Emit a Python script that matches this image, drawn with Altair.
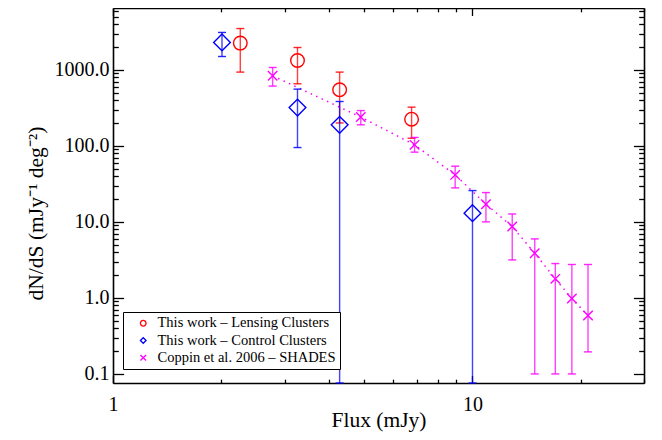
import altair as alt
import pandas as pd

# ---------------- data ----------------
SERIES = ["This work – Lensing Clusters",
          "This work – Control Clusters",
          "Coppin et al. 2006 – SHADES"]
COLORS = ["#ff0000", "#0000ff", "#ff00ff"]
SHAPES = ["circle", "diamond", "M-1,-1L1,1M-1,1L1,-1"]
MARK_SIZES = [185, 280, 90]

lens_x = [2.26, 3.26, 4.27, 6.77]
lens_y = [2245, 1325, 546, 224]
lens_hi = [3490, 1965, 933, 323]
lens_lo = [933, 655, 200, 126]

Y_MIN = 0.076
Y_MAX = 6500
ctrl_x = [2.01, 3.26, 4.27, 10.0]
ctrl_y = [2290, 319, 189, 13.0]
ctrl_hi = [3100, 557, 383, 25.8]
ctrl_lo = [1496, 95, Y_MIN, Y_MIN]

copp_x = [2.78, 4.89, 6.90, 8.95, 10.9, 12.9, 14.9, 17.0, 18.9, 20.96]
copp_y = [834, 239, 103, 41.5, 17.1, 8.67, 3.87, 1.78, 0.98, 0.585]
copp_hi = [1073, 291, 129, 54, 24.3, 12.7, 5.97, 2.83, 2.75, 2.75]
copp_lo = [611, 189, 82.6, 28, 10, 3.16, 0.1, 0.1, 0.1, 0.195]

X_DOMAIN = [1, 30]
Y_DOMAIN = [Y_MIN, Y_MAX]
X_MAJOR = [1, 10]
X_MINOR = [2, 3, 4, 5, 6, 7, 8, 9, 20, 30]
Y_MAJOR = [0.1, 1, 10, 100, 1000]
Y_MINOR = ([0.2, 0.3, 0.4, 0.5, 0.6, 0.7, 0.8, 0.9]
           + [2, 3, 4, 5, 6, 7, 8, 9]
           + [20, 30, 40, 50, 60, 70, 80, 90]
           + [200, 300, 400, 500, 600, 700, 800, 900]
           + [2000, 3000, 4000, 5000, 6000])

# ---------------- build tables ----------------
frames = []
for name, xs, ys, his, los in [
    (SERIES[0], lens_x, lens_y, lens_hi, lens_lo),
    (SERIES[1], ctrl_x, ctrl_y, ctrl_hi, ctrl_lo),
    (SERIES[2], copp_x, copp_y, copp_hi, copp_lo),
]:
    frames.append(pd.DataFrame({"series": name, "flux": xs, "dnds": ys,
                                "hi": his, "lo": los}))
df_all = pd.concat(frames, ignore_index=True)

FONT = "Liberation Serif"
W, H = 531, 375
XT_MAJ, XT_MIN = 7.5, 3.8
YT_MAJ, YT_MIN = 10.6, 5.3
FRAME_W = 1.6

xscale = alt.Scale(type="log", domain=X_DOMAIN, nice=False)
yscale = alt.Scale(type="log", domain=Y_DOMAIN, nice=False)
color_scale = alt.Scale(domain=SERIES, range=COLORS)
shape_scale = alt.Scale(domain=SERIES, range=SHAPES)


def tick_axis(orient, values, size):
    return alt.Axis(orient=orient, values=values, tickSize=size, offset=-size,
                    labels=False, domain=False, grid=False, title="",
                    tickColor="black", tickWidth=1.3)


def frame_axis(orient):
    return alt.Axis(orient=orient, ticks=False, labels=False, domain=True,
                    domainColor="black", domainWidth=FRAME_W, grid=False,
                    title="")


def tick_layer(xa, ya):
    return alt.Chart(df_all).mark_point(opacity=0).encode(
        x=alt.X("flux:Q", scale=xscale, axis=xa),
        y=alt.Y("dnds:Q", scale=yscale, axis=ya),
    )


layers = []

# axes with labels and titles (bottom / left), with frame lines
label_layer = alt.Chart(df_all).mark_point(opacity=0).encode(
    x=alt.X("flux:Q", scale=xscale, axis=alt.Axis(
        orient="bottom", values=X_MAJOR, format="d", ticks=False, tickSize=0,
        domain=True, domainColor="black", domainWidth=FRAME_W, grid=False,
        labelPadding=11, labelFlush=False, labelOverlap=False,
        title="Flux (mJy)", titleX=W / 2, titleY=43, titleAlign="center",
        titleBaseline="alphabetic", titleFontSize=21.5)),
    y=alt.Y("dnds:Q", scale=yscale, axis=alt.Axis(
        orient="left", values=Y_MAJOR, format=".1f", ticks=False, tickSize=0,
        domain=True, domainColor="black", domainWidth=FRAME_W, grid=False,
        labelPadding=4, labelFlush=False, labelOverlap=False,
        title="dN/dS (mJy⁻¹ deg⁻²)", titleAngle=270, titleX=-71, titleY=205,
        titleAlign="center", titleBaseline="alphabetic", titleFontSize=21.5)),
)
layers.append(label_layer)
layers.append(tick_layer(frame_axis("top"), frame_axis("right")))
layers.append(tick_layer(tick_axis("bottom", X_MAJOR, XT_MAJ),
                         tick_axis("left", Y_MAJOR, YT_MAJ)))
layers.append(tick_layer(tick_axis("bottom", X_MINOR, XT_MIN),
                         tick_axis("left", Y_MINOR, YT_MIN)))
layers.append(tick_layer(tick_axis("top", X_MAJOR, XT_MAJ),
                         tick_axis("right", Y_MAJOR, YT_MAJ)))
layers.append(tick_layer(tick_axis("top", X_MINOR, XT_MIN),
                         tick_axis("right", Y_MINOR, YT_MIN)))

X_ENC = alt.X("flux:Q", scale=xscale, axis=None)

# dotted line through SHADES points
df_copp = df_all[df_all.series == SERIES[2]]
layers.append(alt.Chart(df_copp).mark_line(
    color=COLORS[2], strokeWidth=1.5, strokeDash=[1.5, 4.5]).encode(
    x=X_ENC, y=alt.Y("dnds:Q", scale=yscale, axis=None)))

legend = alt.Legend(orient="none", legendX=10, legendY=304, title=None,
                    strokeColor="black", fillColor="white", padding=4,
                    symbolOffset=9, labelOffset=7, rowPadding=2.25,
                    symbolSize=32, symbolStrokeWidth=1.3, labelLimit=400,
                    cornerRadius=0)

for name, col, size in zip(SERIES, COLORS, MARK_SIZES):
    d = df_all[df_all.series == name]
    layers.append(alt.Chart(d).mark_rule(
        color=col, strokeWidth=1.4, opacity=0.75, clip=True).encode(
        x=X_ENC, y=alt.Y("lo:Q", scale=yscale, axis=None), y2="hi:Q"))
    for end in ["hi", "lo"]:
        layers.append(alt.Chart(d).mark_tick(
            orient="horizontal", color=col, size=8, thickness=1.4,
            opacity=0.85).encode(
            x=X_ENC, y=alt.Y(f"{end}:Q", scale=yscale, axis=None)))
    layers.append(alt.Chart(d).mark_point(
        filled=False, size=size, strokeWidth=1.4, opacity=1).encode(
        x=X_ENC, y=alt.Y("dnds:Q", scale=yscale, axis=None),
        color=alt.Color("series:N", scale=color_scale, legend=legend),
        shape=alt.Shape("series:N", scale=shape_scale, legend=legend)))

chart = alt.layer(*layers).resolve_axis(
    x="independent", y="independent"
).properties(
    width=W, height=H,
    autosize=alt.AutoSizeParams(type="none"),
    padding={"left": 105, "top": 0, "right": 10, "bottom": 49},
).configure_view(stroke=None).configure(
    background="white", font=FONT
).configure_axis(
    labelFont=FONT, labelFontSize=20, labelColor="black",
    labelFontWeight="normal",
    titleFont=FONT, titleFontSize=20, titleColor="black",
    titleFontWeight="normal",
).configure_legend(
    labelFont=FONT, labelFontSize=14.5, labelColor="black",
    labelFontWeight="normal",
)

chart.save("out.html", embed_options={"renderer": "svg", "actions": False})
